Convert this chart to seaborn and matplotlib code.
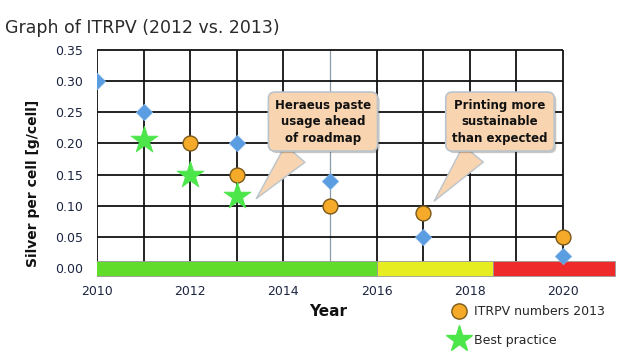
import pandas as pd
import numpy as np
import matplotlib.pyplot as plt
import matplotlib.patheffects as pe
from matplotlib.lines import Line2D
import seaborn as sns

# ITRPV 2012 roadmap (blue diamonds)
years_2012 = [2010, 2011, 2013, 2015, 2017, 2020]
silver_2012 = [0.30, 0.25, 0.20, 0.14, 0.05, 0.02]

# ITRPV 2013 roadmap (orange circles)
years_2013 = [2012, 2013, 2015, 2017, 2020]
silver_2013 = [0.20, 0.15, 0.10, 0.088, 0.05]

# best practice (green stars)
years_best = [2011, 2012, 2013]
silver_best = [0.205, 0.15, 0.115]

# coloured phase bar along the x axis
phase_start = [2009.98, 2016, 2018.5]
phase_end = [2016, 2018.5, 2021.12]
phase_colors = ['#62DC2A', '#E6EE22', '#EE2A2A']

xticks = [2010, 2012, 2014, 2016, 2018, 2020]
yticks = [0.00, 0.05, 0.10, 0.15, 0.20, 0.25, 0.30, 0.35]

df12 = pd.DataFrame({'Year': years_2012, 'Silver': silver_2012})
df13 = pd.DataFrame({'Year': years_2013, 'Silver': silver_2013})
dfbest = pd.DataFrame({'Year': years_best, 'Silver': silver_best})

sns.set_style('white')
plt.rcParams['font.family'] = ['DejaVu Sans']

fig = plt.figure(figsize=(6.2, 3.52), dpi=100)
ax = fig.add_axes([0.1565, 0.2102, 0.837, 0.6534])
ax.set_xlim(2010, 2021.14)
ax.set_ylim(-0.016, 0.353)
for s in ax.spines.values():
    s.set_visible(False)

# grid (stops at 2020)
for yr in range(2010, 2021):
    col = '#8a9aaa' if yr == 2015 else '#111111'
    lw = 0.9 if yr == 2015 else 1.3
    ax.vlines(yr, 0, 0.35, color=col, lw=lw, zorder=1)
for v in yticks[1:]:
    ax.hlines(v, 2010, 2020, color='#111111', lw=1.3, zorder=1)

# phase bar
for st, en, c in zip(phase_start, phase_end, phase_colors):
    ax.barh(0, en - st, left=st, height=0.024, color=c,
            edgecolor='#9a9a9a', linewidth=0.6, zorder=2)

sns.scatterplot(data=df12, x='Year', y='Silver', marker='D', s=70,
                color='#5A9DE0', edgecolor='#7fb2e8', linewidth=0.5,
                zorder=4, ax=ax, legend=False)
sns.scatterplot(data=df13, x='Year', y='Silver', marker='o', s=115,
                color='#F5AA2A', edgecolor='#7a5a1a', linewidth=1.0,
                zorder=4, ax=ax, legend=False)
sns.scatterplot(data=dfbest, x='Year', y='Silver', marker='*', s=420,
                color='#4CE64A', edgecolor='#4CE64A', linewidth=0.5,
                zorder=4, ax=ax, legend=False)

ax.set_xticks(xticks)
ax.set_yticks(yticks)
ax.set_yticklabels([f'{v:.2f}' for v in yticks])
ax.tick_params(axis='y', length=0, pad=10, labelsize=9, labelcolor='#1c2540')
ax.tick_params(axis='x', length=0, pad=5, labelsize=9, labelcolor='#1c2540')
ax.set_xlabel('Year', fontsize=11, fontweight='bold', color='#111111')
ax.xaxis.set_label_coords(0.445, -0.115)
ax.set_ylabel('Silver per cell [g/cell]', fontsize=10, fontweight='bold',
              color='#111111')
ax.yaxis.set_label_coords(-0.11, 0.41)

# callouts
box = dict(boxstyle='round,pad=0.55', fc='#F9D4B0', ec='#b9c4cc', lw=1.2,
           path_effects=[pe.withSimplePatchShadow(offset=(1.5, -1.5),
                                                  alpha=0.3)])
arrow = dict(arrowstyle='wedge,tail_width=2.2,shrink_factor=0.5',
             fc='#F9D4B0', ec='#b9c4cc', lw=1.0)
ax.annotate('Heraeus paste\nusage ahead\nof roadmap', xy=(2013.38, 0.108),
            xytext=(2014.85, 0.235), ha='center', va='center', fontsize=8.5,
            fontweight='bold', color='#111111', linespacing=1.35,
            bbox=box, arrowprops=arrow, zorder=6)
ax.annotate('Printing more\nsustainable\nthan expected', xy=(2017.2, 0.104),
            xytext=(2018.65, 0.235), ha='center', va='center', fontsize=8.5,
            fontweight='bold', color='#111111', linespacing=1.35,
            bbox=box, arrowprops=arrow, zorder=6)

fig.text(0.008, 0.905, 'Graph of ITRPV (2012 vs. 2013)', fontsize=12.5,
         color='#2a2a2a')

handles = [Line2D([], [], marker='o', ls='', ms=11, mfc='#F5AA2A',
                  mec='#7a5a1a', mew=1.0),
           Line2D([], [], marker='*', ls='', ms=20, mfc='#4CE64A',
                  mec='#4CE64A')]
fig.legend(handles, ['ITRPV numbers 2013', 'Best practice'],
           loc='upper left', bbox_to_anchor=(0.72, 0.148), frameon=False,
           fontsize=9, handletextpad=0.6, labelspacing=1.25,
           borderaxespad=0, handlelength=1.2)

fig.savefig('out.png', dpi=100)
